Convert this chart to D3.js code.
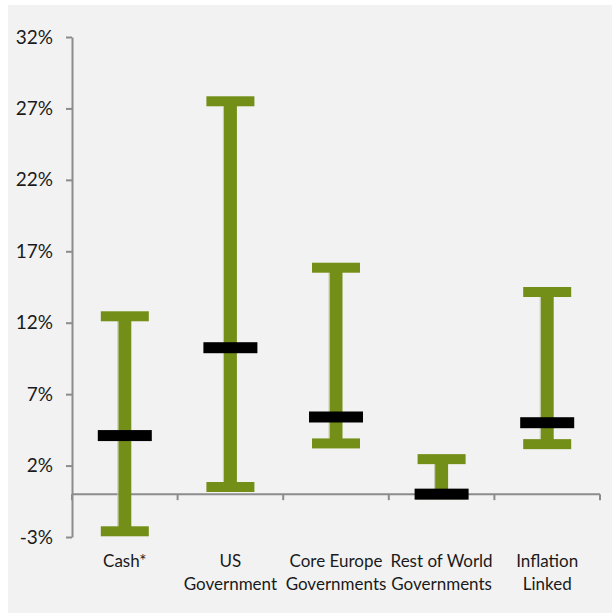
<!DOCTYPE html>
<html>
<head>
<meta charset="utf-8">
<script src="https://cdn.jsdelivr.net/npm/d3@7"></script>
<style>
  body { margin: 0; background: #ffffff; }
  svg { display: block; }
</style>
</head>
<body>
<div id="chart"></div>
<script>
// Chart values (percent)
const categories = [["Cash*"], ["US", "Government"], ["Core Europe", "Governments"], ["Rest of World", "Governments"], ["Inflation", "Linked"]];
const highValues = [12.45, 27.5, 15.85, 2.45, 14.15];
const lowValues = [-2.6, 0.5, 3.55, 0.0, 3.5];
const midValues = [4.1, 10.25, 5.4, 0.0, 5.0];
const yTicks = [-3, 2, 7, 12, 17, 22, 27, 32];

const width = 612;
const height = 615;
const margin = { top: 37, right: 12, bottom: 78, left: 72 };

const svg = d3.select("#chart")
  .append("svg")
  .attr("width", width)
  .attr("height", height);

// Plot background panel
svg.append("rect")
  .attr("x", 8)
  .attr("y", 5)
  .attr("width", width - 8)
  .attr("height", height - 7)
  .attr("fill", "#f2f2f2");

const x = d3.scaleBand()
  .domain(d3.range(categories.length))
  .range([margin.left, width - margin.right])
  .padding(0);

const y = d3.scaleLinear()
  .domain([-3, 32])
  .range([height - margin.bottom, margin.top]);

const axisColor = "#8c8c8c";

// Y axis
const yAxis = svg.append("g")
  .attr("transform", `translate(${margin.left},0)`)
  .call(d3.axisLeft(y).tickValues(yTicks).tickSize(6).tickSizeOuter(0).tickFormat(d => d + "%"));
yAxis.select(".domain").attr("stroke", axisColor).attr("stroke-width", 2);
yAxis.selectAll(".tick line").attr("stroke", axisColor).attr("stroke-width", 2);
yAxis.selectAll(".tick text")
  .attr("x", -19)
  .style("font-family", "Lato, 'Open Sans', sans-serif")
  .style("font-size", "19px")
  .attr("fill", "#1a1a1a");

// X axis at zero
const xAxisG = svg.append("g")
  .attr("transform", `translate(0,${y(0)})`);
xAxisG.append("line")
  .attr("x1", margin.left)
  .attr("x2", width - margin.right)
  .attr("stroke", axisColor)
  .attr("stroke-width", 2);
xAxisG.selectAll(".xtick")
  .data(d3.range(categories.length + 1))
  .enter()
  .append("line")
  .attr("x1", d => margin.left + d * x.bandwidth())
  .attr("x2", d => margin.left + d * x.bandwidth())
  .attr("y1", 0)
  .attr("y2", 6)
  .attr("stroke", axisColor)
  .attr("stroke-width", 2);

// Category labels
const labels = svg.append("g")
  .selectAll("text")
  .data(categories)
  .enter()
  .append("text")
  .attr("text-anchor", "middle")
  .attr("x", (d, i) => x(i) + x.bandwidth() / 2)
  .attr("y", 567)
  .style("font-family", "Lato, 'Open Sans', sans-serif")
  .style("font-size", "17px")
  .attr("fill", "#1a1a1a");
labels.each(function (lines) {
  const t = d3.select(this);
  const cx = t.attr("x");
  lines.forEach((line, k) => {
    t.append("tspan").attr("x", cx).attr("dy", k === 0 ? 0 : 22.5).text(line);
  });
});

// High-low ranges
const green = "#748f18";
const capW = 48, capH = 10, stemW = 13;
const bars = svg.append("g")
  .selectAll("g")
  .data(categories.map((c, i) => ({ i, hi: highValues[i], lo: lowValues[i], mid: midValues[i] })))
  .enter()
  .append("g");

bars.append("rect")
  .attr("x", d => x(d.i) + x.bandwidth() / 2 - stemW / 2)
  .attr("y", d => y(d.hi))
  .attr("width", stemW)
  .attr("height", d => y(d.lo) - y(d.hi))
  .attr("fill", green);

// faint highlight on stem edge
bars.append("rect")
  .attr("x", d => x(d.i) + x.bandwidth() / 2 - stemW / 2 - 1)
  .attr("y", d => y(d.hi) + capH / 2)
  .attr("width", 1)
  .attr("height", d => Math.max(0, y(d.lo) - y(d.hi) - capH))
  .attr("fill", "#c3c9ae");

bars.append("rect")
  .attr("x", d => x(d.i) + x.bandwidth() / 2 - capW / 2)
  .attr("y", d => y(d.hi) - capH / 2)
  .attr("width", capW)
  .attr("height", capH)
  .attr("fill", green);

bars.append("rect")
  .attr("x", d => x(d.i) + x.bandwidth() / 2 - capW / 2)
  .attr("y", d => y(d.lo) - capH / 2)
  .attr("width", capW)
  .attr("height", capH)
  .attr("fill", green);

// Midpoint markers
bars.append("rect")
  .attr("x", d => x(d.i) + x.bandwidth() / 2 - 27)
  .attr("y", d => y(d.mid) - 5.5)
  .attr("width", 54)
  .attr("height", 11)
  .attr("fill", "#000000");
</script>
</body>
</html>
